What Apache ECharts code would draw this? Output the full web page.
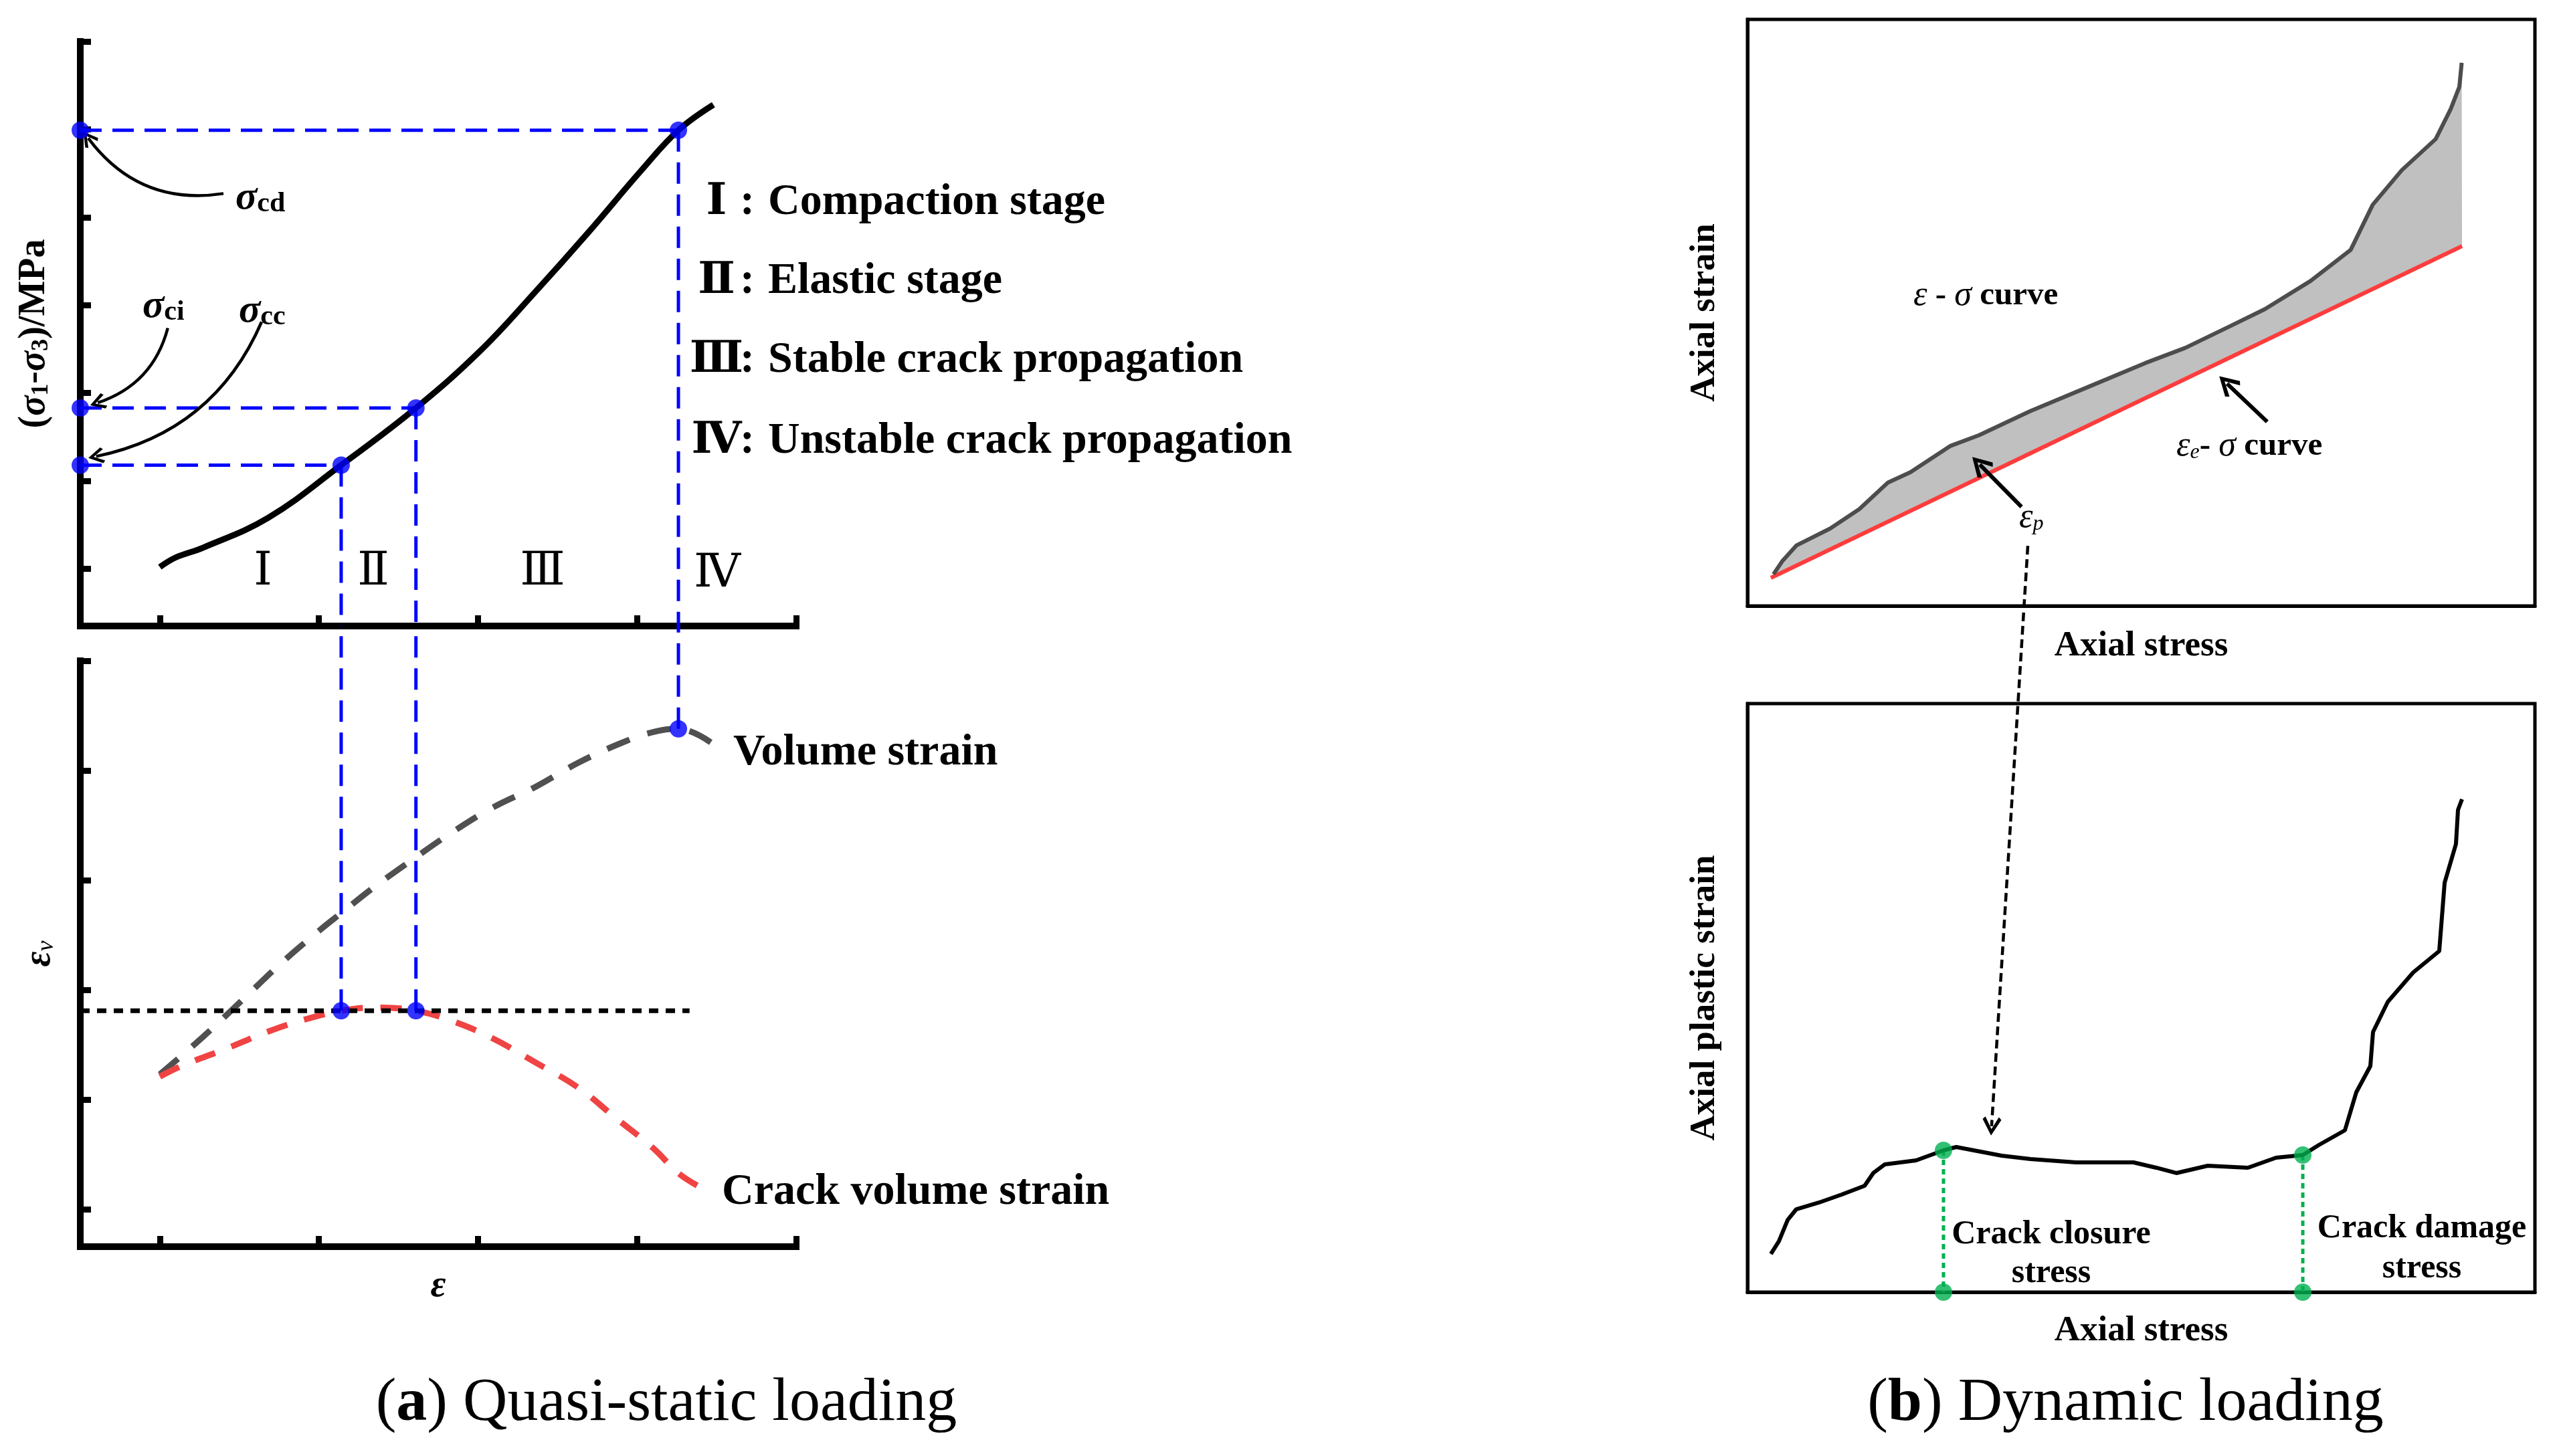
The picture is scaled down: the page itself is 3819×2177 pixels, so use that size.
<!DOCTYPE html>
<html>
<head>
<meta charset="utf-8">
<script src="https://cdn.jsdelivr.net/npm/echarts@6.0.0/dist/echarts.min.js"></script>
<style>
  html, body { margin: 0; padding: 0; background: #fff; }
  #chart { width: 3819px; height: 2177px; }
</style>
</head>
<body>
<div id="chart"></div>
<script>
const FONT = '"Liberation Serif", "DejaVu Serif", "Noto Sans CJK SC", serif'

// (a) upper panel: deviatoric stress vs strain (schematic units)
const STRAIN_A = [1.0, 1.1, 1.27, 1.68, 2.14, 2.61, 3.02, 3.36, 3.69, 4.03, 4.26, 4.48]
const STRESS_A = [1.02, 1.13, 1.24, 1.58, 2.18, 2.83, 3.49, 4.15, 4.82, 5.54, 5.99, 6.28]
// characteristic points: sigma_cc, sigma_ci, sigma_cd
const KEY_STRAIN = [2.14, 2.61, 4.26]
const KEY_STRESS = [2.18, 2.83, 5.99]
const KEY_LOWER = [2.81, 2.81, 5.38]

// (a) lower panel: volume strain and crack volume strain
const STRAIN_V = [1.0, 1.27, 1.52, 1.76, 2.01, 2.14, 2.35, 2.61, 2.82, 3.09, 3.36, 3.63, 3.9, 4.1, 4.26, 4.48]
const VOL_STRAIN = [2.23, 2.57, 2.91, 3.24, 3.55, 3.70, 3.94, 4.21, 4.42, 4.66, 4.85, 5.07, 5.25, 5.35, 5.38, 5.24]
const STRAIN_C = [1.0, 1.14, 1.41, 1.68, 1.91, 2.14, 2.35, 2.61, 2.85, 3.09, 3.36, 3.63, 3.86, 4.1, 4.26, 4.4]
const CRACK_STRAIN = [2.21, 2.31, 2.46, 2.62, 2.73, 2.81, 2.84, 2.81, 2.71, 2.56, 2.34, 2.11, 1.84, 1.56, 1.33, 1.2]
const FLAT_LEVEL = 2.81
const FLAT_END = 4.33

// axis ticks
const TICKS_X_A = [1, 2, 3, 4, 5]
const TICKS_Y_A = [1, 2, 3, 4, 5, 6, 7]
const TICKS_Y_V = [1, 2, 3, 4, 5, 6]

// (b) upper panel: axial strain vs axial stress
const STRESS_B1 = [3.3, 4.4, 6.2, 10.5, 14.2, 17.8, 20.7, 25.8, 29.4, 35.9, 43.2, 50.5, 55.6, 61.3, 65.7, 71.5, 76.6, 79.4, 83.1, 87.4, 89.3, 90.4, 90.7]
const STRAIN_B1 = [5.4, 7.6, 10.3, 13.2, 16.5, 21.0, 22.8, 27.3, 29.1, 33.2, 37.3, 41.4, 44.0, 47.7, 50.6, 55.4, 60.7, 68.4, 74.3, 79.6, 84.7, 88.5, 92.6]
const ELASTIC_X = [2.97, 90.74]
const ELASTIC_Y = [4.79, 61.35]

// (b) lower panel: axial plastic strain vs axial stress
const STRESS_B2 = [2.97, 3.99, 5.1, 6.2, 9.09, 11.98, 14.87, 15.97, 17.42, 21.41, 24.89, 26.51, 32.29, 35.94, 41.72, 49.02, 51.91, 54.46, 58.45, 63.55, 67.12, 70.52, 72.56, 75.87, 77.32, 79.1, 79.44, 81.31, 84.54, 87.85, 88.53, 89.97, 90.23, 90.74]
const PLASTIC_B2 = [6.48, 8.64, 12.27, 14.09, 15.23, 16.59, 18.07, 20.23, 21.7, 22.39, 24.09, 24.66, 23.18, 22.61, 22.05, 22.05, 21.14, 20.23, 21.48, 21.14, 22.84, 23.3, 25.0, 27.5, 33.98, 38.41, 44.2, 49.32, 54.32, 57.95, 69.55, 76.14, 81.93, 83.75]
const MARK_INDEX = [10, 21] // crack closure stress, crack damage stress

const ARROW = 'path://M50,0L100,70L86,82L50,28L14,82L0,70Z'
const Y_MIN_A = 0.35
const Y_BRIDGE_V = 6.32

const zip = (xs, ys) => xs.map((x, i) => [x, ys[i]])

const blueDash = { color: '#0000ff', width: 5, type: [32, 16] }

function leftAxis(grid, min, max, ticks, extra) {
  return Object.assign({
    gridIndex: grid,
    type: 'value',
    min: min,
    max: max,
    axisLine: { show: true, lineStyle: { color: '#000', width: 10, cap: 'square' } },
    axisTick: { show: true, inside: true, length: 16, lineStyle: { color: '#000', width: 9 }, customValues: ticks },
    axisLabel: { show: false },
    splitLine: { show: false }
  }, extra || {})
}

function boxAxis(grid, extra) {
  return Object.assign({
    gridIndex: grid,
    type: 'value',
    min: 0,
    max: 100,
    axisLine: { show: true, lineStyle: { color: '#000', width: 5 } },
    axisTick: { show: false },
    axisLabel: { show: false },
    splitLine: { show: false },
    nameLocation: 'middle',
    nameTextStyle: { fontFamily: FONT, fontSize: 53, fontWeight: 'bold', color: '#000' }
  }, extra || {})
}

function text(x, y, str, opts) {
  return {
    type: 'text', x: x, y: y, z: 100,
    style: Object.assign({
      text: str, fill: '#000', fontFamily: FONT, fontSize: 66, fontWeight: 'bold',
      align: 'left', verticalAlign: 'middle'
    }, opts || {})
  }
}

function sigmaRich(size, sub) {
  return {
    s: { fontFamily: FONT, fontSize: size, fontStyle: 'italic', fontWeight: 'bold', lineHeight: size },
    b: { fontFamily: FONT, fontSize: sub, fontWeight: 'bold', lineHeight: 22, verticalAlign: 'bottom' }
  }
}

const epsRich = {
  i: { fontFamily: FONT, fontSize: 52, fontStyle: 'italic', lineHeight: 52 },
  r: { fontFamily: FONT, fontSize: 49, fontWeight: 'bold', lineHeight: 52 },
  sub: { fontFamily: FONT, fontSize: 32, fontStyle: 'italic', lineHeight: 14, verticalAlign: 'bottom' }
}

const series = []

// ---- (a) upper ----
series.push({
  type: 'line', xAxisIndex: 0, yAxisIndex: 0, data: zip(STRAIN_A, STRESS_A),
  smooth: 0.4, symbol: 'none', lineStyle: { color: '#000', width: 9 }, z: 4
})
KEY_STRAIN.forEach((x, i) => {
  const y = KEY_STRESS[i]
  series.push({
    type: 'line', xAxisIndex: 0, yAxisIndex: 0, data: [[0.5, y], [x, y]],
    symbol: 'none', lineStyle: blueDash, clip: false, z: 3
  })
  series.push({
    type: 'line', xAxisIndex: 0, yAxisIndex: 0, data: [[x, y], [x, Y_MIN_A]],
    symbol: 'none', lineStyle: blueDash, clip: false, z: 3
  })
  series.push({
    type: 'line', xAxisIndex: 1, yAxisIndex: 1, data: [[x, KEY_LOWER[i]], [x, Y_BRIDGE_V]],
    symbol: 'none', lineStyle: blueDash, clip: false, z: 3
  })
})
series.push({
  type: 'scatter', xAxisIndex: 0, yAxisIndex: 0, clip: false, symbolSize: 26, z: 6,
  itemStyle: { color: '#0000ff' },
  data: KEY_STRESS.map(y => [0.5, y]).concat(zip(KEY_STRAIN, KEY_STRESS))
})
series.push({
  type: 'lines', coordinateSystem: 'cartesian2d', xAxisIndex: 0, yAxisIndex: 0, clip: false,
  symbol: ['none', ARROW], symbolSize: 24, z: 5,
  lineStyle: { color: '#000', width: 4.5, opacity: 1 },
  data: [
    { coords: [[1.40, 5.27], [0.55, 5.90]], lineStyle: { curveness: 0.3 } },
    { coords: [[1.05, 3.74], [0.61, 2.89]], lineStyle: { curveness: 0.27 } },
    { coords: [[1.64, 3.81], [0.60, 2.28]], lineStyle: { curveness: 0.26 } }
  ]
})

// ---- (a) lower ----
series.push({
  type: 'line', xAxisIndex: 1, yAxisIndex: 1, data: zip(STRAIN_V, VOL_STRAIN),
  smooth: 0.4, symbol: 'none', lineStyle: { color: '#505050', width: 9, type: [36, 28] }, z: 2
})
series.push({
  type: 'line', xAxisIndex: 1, yAxisIndex: 1, data: zip(STRAIN_C, CRACK_STRAIN),
  smooth: 0.4, symbol: 'none', lineStyle: { color: '#f04343', width: 9, type: [32, 26] }, z: 2
})
series.push({
  type: 'line', xAxisIndex: 1, yAxisIndex: 1, data: [[0.5, FLAT_LEVEL], [FLAT_END, FLAT_LEVEL]],
  symbol: 'none', lineStyle: { color: '#000', width: 7, type: [14, 11] }, z: 3
})
series.push({
  type: 'scatter', xAxisIndex: 1, yAxisIndex: 1, clip: false, symbolSize: 26, z: 6,
  itemStyle: { color: '#0000ff' }, data: zip(KEY_STRAIN, KEY_LOWER)
})

// ---- (b) upper ----
series.push({
  type: 'custom', xAxisIndex: 2, yAxisIndex: 2, data: [[0, 0]], silent: true, z: 1,
  renderItem: (params, api) => {
    const pts = STRESS_B1.map((x, i) => api.coord([x, STRAIN_B1[i]]))
    pts.push(api.coord([ELASTIC_X[1], ELASTIC_Y[1]]), api.coord([ELASTIC_X[0], ELASTIC_Y[0]]))
    return { type: 'polygon', shape: { points: pts }, style: { fill: '#c0c0c0' } }
  }
})
series.push({
  type: 'line', xAxisIndex: 2, yAxisIndex: 2, data: zip(ELASTIC_X, ELASTIC_Y),
  symbol: 'none', lineStyle: { color: '#ff3c3c', width: 6 }, z: 3
})
series.push({
  type: 'line', xAxisIndex: 2, yAxisIndex: 2, data: zip(STRESS_B1, STRAIN_B1),
  symbol: 'none', lineStyle: { color: '#4d4d4d', width: 6 }, z: 4
})
series.push({
  type: 'lines', coordinateSystem: 'cartesian2d', xAxisIndex: 2, yAxisIndex: 2, clip: false,
  symbol: ['none', ARROW], symbolSize: 32, z: 5,
  lineStyle: { color: '#000', width: 6, opacity: 1 },
  data: [
    { coords: [[66.0, 31.4], [60.9, 37.9]] },
    { coords: [[34.8, 16.9], [29.5, 24.1]] }
  ]
})

// ---- (b) lower ----
series.push({
  type: 'line', xAxisIndex: 3, yAxisIndex: 3, data: zip(STRESS_B2, PLASTIC_B2),
  symbol: 'none', lineStyle: { color: '#000', width: 6 }, z: 4
})
MARK_INDEX.forEach(k => {
  series.push({
    type: 'line', xAxisIndex: 3, yAxisIndex: 3, data: [[STRESS_B2[k], PLASTIC_B2[k]], [STRESS_B2[k], 0]],
    symbol: 'none', lineStyle: { color: '#00b050', width: 5, type: [8, 6] }, z: 3
  })
})
series.push({
  type: 'scatter', xAxisIndex: 3, yAxisIndex: 3, clip: false, symbolSize: 26, z: 6,
  itemStyle: { color: '#00b050' },
  data: MARK_INDEX.map(k => [STRESS_B2[k], PLASTIC_B2[k]]).concat(MARK_INDEX.map(k => [STRESS_B2[k], 0]))
})
series.push({
  type: 'lines', coordinateSystem: 'cartesian2d', xAxisIndex: 3, yAxisIndex: 3, clip: false,
  symbol: ['none', ARROW], symbolSize: 28, z: 5,
  lineStyle: { color: '#000', width: 4.5, type: [13, 7], opacity: 1 },
  data: [{ coords: [[35.6, 126.8], [31.0, 28.2]] }]
})

const graphics = [
  text(352, 296, '{s|σ}{b|cd}', { rich: sigmaRich(60, 42) }),
  text(213, 458, '{s|σ}{b|ci}', { rich: sigmaRich(60, 42) }),
  text(357, 465, '{s|σ}{b|cc}', { rich: sigmaRich(60, 42) }),
  // stage numerals inside the plot
  text(393, 856, 'Ⅰ', { align: 'center', fontWeight: 'normal', fontSize: 70 }),
  text(558, 856, 'Ⅱ', { align: 'center', fontWeight: 'normal', fontSize: 70 }),
  text(811, 856, 'Ⅲ', { align: 'center', fontWeight: 'normal', fontSize: 70 }),
  text(1072, 859, 'Ⅳ', { align: 'center', fontWeight: 'normal', fontSize: 70 }),
  text(1096, 1126, 'Volume strain'),
  text(1079, 1783, 'Crack volume strain'),
  text(2860, 442, '{i|ε}{r| - }{i|σ}{r| curve}', { rich: epsRich }),
  text(3253, 667, '{i|ε}{sub|e}{r|- }{i|σ}{r| curve}', { rich: epsRich }),
  text(3018, 774, '{i|ε}{sub|p}', { rich: epsRich }),
  text(3066, 1875, 'Crack closure\nstress', { align: 'center', fontSize: 50, lineHeight: 58 }),
  text(3620, 1867, 'Crack damage\nstress', { align: 'center', fontSize: 50, lineHeight: 60 }),
  text(996, 2099, '{r|(}{b|a}{r|) Quasi-static loading}', {
    align: 'center',
    rich: {
      r: { fontFamily: FONT, fontSize: 92 },
      b: { fontFamily: FONT, fontSize: 92, fontWeight: 'bold' }
    }
  }),
  text(3177, 2099, '{r|(}{b|b}{r|) Dynamic loading}', {
    align: 'center',
    rich: {
      r: { fontFamily: FONT, fontSize: 92 },
      b: { fontFamily: FONT, fontSize: 92, fontWeight: 'bold' }
    }
  })
]

const STAGE_NUM = ['Ⅰ', 'Ⅱ', 'Ⅲ', 'Ⅳ']
const STAGE_NAME = ['Compaction stage', 'Elastic stage', 'Stable crack propagation', 'Unstable crack propagation']
const STAGE_Y = [303, 421, 539, 660]
STAGE_NUM.forEach((n, i) => {
  graphics.push(text(1071, STAGE_Y[i], n, { align: 'center' }))
  graphics.push(text(1117, STAGE_Y[i], ':', { align: 'center' }))
  graphics.push(text(1148, STAGE_Y[i], STAGE_NAME[i]))
})

const chart = echarts.init(document.getElementById('chart'), null, { renderer: 'canvas' })
chart.setOption({
  backgroundColor: '#fff',
  animation: false,
  grid: [
    { left: 120, top: 62, width: 1070, height: 874, containLabel: false, outerBoundsMode: 'none' },
    { left: 120, top: 988, width: 1070, height: 876, containLabel: false, outerBoundsMode: 'none' },
    { left: 2612, top: 29, width: 1177, height: 877, show: true, borderColor: '#000', borderWidth: 5, containLabel: false, outerBoundsMode: 'none' },
    { left: 2612, top: 1052, width: 1177, height: 880, show: true, borderColor: '#000', borderWidth: 5, containLabel: false, outerBoundsMode: 'none' }
  ],
  xAxis: [
    leftAxis(0, 0.5, 5, TICKS_X_A),
    leftAxis(1, 0.5, 5, TICKS_X_A, {
      name: 'ε', nameLocation: 'middle', nameGap: 32,
      nameTextStyle: { fontFamily: FONT, fontSize: 56, fontStyle: 'italic', fontWeight: 'bold', color: '#000' }
    }),
    boxAxis(2, { name: 'Axial stress', nameGap: 34 }),
    boxAxis(3, { name: 'Axial stress', nameGap: 32 })
  ],
  yAxis: [
    leftAxis(0, Y_MIN_A, 7, TICKS_Y_A, {
      name: '{p|(}{s|σ}{sub|1}{p|-}{s|σ}{sub|3}{p|)/MPa}', nameLocation: 'middle', nameRotate: 90, nameGap: 40,
      nameTextStyle: {
        color: '#000',
        rich: {
          p: { fontFamily: FONT, fontSize: 56, fontWeight: 'bold', lineHeight: 56 },
          s: { fontFamily: FONT, fontSize: 56, fontWeight: 'bold', fontStyle: 'italic', lineHeight: 56 },
          sub: { fontFamily: FONT, fontSize: 36, fontWeight: 'bold', lineHeight: 18, verticalAlign: 'bottom' }
        }
      }
    }),
    leftAxis(1, 0.66, 6, TICKS_Y_V, {
      name: '{s|ε}{sub|v}', nameLocation: 'middle', nameRotate: 90, nameGap: 32,
      nameTextStyle: {
        color: '#000',
        rich: {
          s: { fontFamily: FONT, fontSize: 56, fontWeight: 'bold', fontStyle: 'italic', lineHeight: 56 },
          sub: { fontFamily: FONT, fontSize: 36, fontStyle: 'italic', lineHeight: 16, verticalAlign: 'bottom' }
        }
      }
    }),
    boxAxis(2, { name: 'Axial strain', nameRotate: 90, nameGap: 37 }),
    boxAxis(3, { name: 'Axial plastic strain', nameRotate: 90, nameGap: 37 })
  ],
  graphic: graphics,
  series: series
})
</script>
</body>
</html>
